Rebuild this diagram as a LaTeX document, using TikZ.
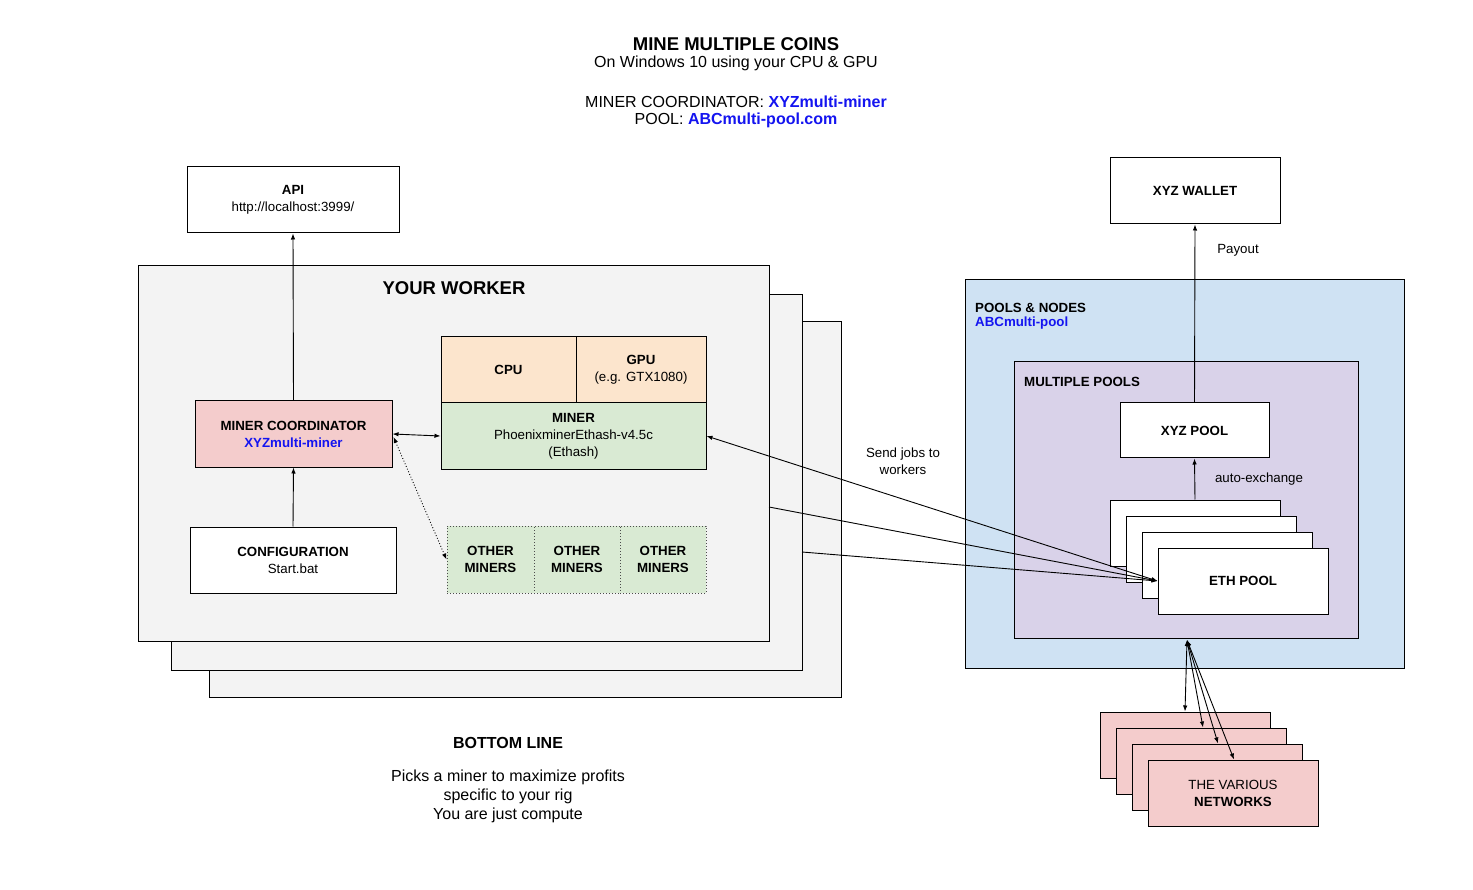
\documentclass[tikz,border=0pt]{standalone}
\usepackage{fontspec}
\setmainfont{Liberation Sans}
\usetikzlibrary{arrows.meta,calc}
\newcommand\fsm{\fontsize{13.3}{17}\selectfont}
\newcommand\fmd{\fontsize{16}{19}\selectfont}
\newcommand\fbig{\fontsize{18.5}{21}\selectfont\bfseries}
\definecolor{wgray}{HTML}{F3F3F3}
\definecolor{peach}{HTML}{FCE5CD}
\definecolor{mgreen}{HTML}{D9EAD3}
\definecolor{mpink}{HTML}{F4CCCC}
\definecolor{mblue}{HTML}{CFE2F3}
\definecolor{mpurple}{HTML}{D9D2E9}
\definecolor{tblue}{HTML}{1414F0}
\tikzset{
  box/.style={draw=black, line width=1pt, inner sep=0pt, align=center, font=\fsm},
  conn/.style={line width=0.9pt, -{Latex[length=6pt,width=4.5pt]}},
  bconn/.style={line width=0.9pt, {Latex[length=6pt,width=4.5pt]}-{Latex[length=6pt,width=4.5pt]}},
  dconn/.style={line width=0.9pt, dotted, {Latex[length=6pt,width=4.5pt]}-{Latex[length=6pt,width=4.5pt]}},
  lbl/.style={font=\fsm, align=center, inner sep=0pt, yshift=-1.5pt},
}
\begin{document}
\begin{tikzpicture}[x=1pt,y=-1pt]
\useasboundingbox[fill=white] (0,0) rectangle (1473,890);

% titles
\node[lbl, font=\fbig] (title) at (736,43) {MINE MULTIPLE COINS};
\node[lbl, font=\fmd] (sub) at (736,62) {On Windows 10 using your CPU \& GPU};
\node[lbl, font=\fmd] (mc) at (736,100) {MINER COORDINATOR: \textcolor{tblue}{\bfseries XYZmulti-miner}};
\node[lbl, font=\fmd] (pool) at (736,119) {POOL: \textcolor{tblue}{\bfseries ABCmulti-pool.com}};

% API
\node[box, minimum width=212, minimum height=66] (api) at (293,200) {\textbf{API}\\http://localhost:3999/};

% workers
\node[box, fill=wgray, minimum width=632, minimum height=375] (worker3) at (525,509.5) {};
\node[box, fill=wgray, minimum width=631, minimum height=375] (worker2) at (486.5,482.5) {};
\node[box, fill=wgray, minimum width=631, minimum height=375] (worker1) at (453.5,453.5) {};
\node[lbl, font=\fbig] (wtitle) at (454,287) {YOUR WORKER};

\node[box, fill=peach, minimum width=135, minimum height=66] (cpu) at (508.5,370) {\textbf{CPU}};
\node[box, fill=peach, minimum width=130, minimum height=66] (gpu) at (641,370) {\textbf{GPU}\\(e.g. GTX1080)};
\node[box, fill=mgreen, minimum width=265, minimum height=66] (miner) at (573.5,436) {\textbf{MINER}\\PhoenixminerEthash-v4.5c\\(Ethash)};
\node[box, fill=mpink, minimum width=197, minimum height=66] (coord) at (293.5,434) {\textbf{MINER COORDINATOR}\\\textcolor{tblue}{\bfseries XYZmulti-miner}};
\node[box, fill=white, minimum width=206, minimum height=66] (config) at (293,560) {\textbf{CONFIGURATION}\\Start.bat};

\node[box, draw=black!70, dotted, fill=mgreen, minimum width=87, minimum height=67] (om1) at (490.5,559.5) {\textbf{OTHER}\\\textbf{MINERS}};
\node[box, draw=black!70, dotted, fill=mgreen, minimum width=86, minimum height=67] (om2) at (577,559.5) {\textbf{OTHER}\\\textbf{MINERS}};
\node[box, draw=black!70, dotted, fill=mgreen, minimum width=86, minimum height=67] (om3) at (663,559.5) {\textbf{OTHER}\\\textbf{MINERS}};

% right side
\node[box, fill=white, minimum width=170, minimum height=66] (wallet) at (1195,191) {\textbf{XYZ WALLET}};
\node[box, fill=mblue, minimum width=439, minimum height=388] (pn) at (1184.5,474) {};
\node[lbl, anchor=west, font=\fsm\bfseries] (pnl) at (975,306) {POOLS \& NODES};
\node[lbl, anchor=west, font=\fsm\bfseries, text=tblue] (pnl2) at (975,322) {ABCmulti-pool};
\node[box, fill=mpurple, minimum width=344, minimum height=276] (mp) at (1186,500) {};
\node[lbl, anchor=west, font=\fsm\bfseries] (mpl) at (1024,380) {MULTIPLE POOLS};
\node[box, fill=white, minimum width=149, minimum height=55] (xyzpool) at (1194.5,430.5) {\textbf{XYZ POOL}};

\node[box, fill=white, minimum width=170, minimum height=66] (eth1) at (1195,533) {};
\node[box, fill=white, minimum width=170, minimum height=66] (eth2) at (1211,549) {};
\node[box, fill=white, minimum width=170, minimum height=66] (eth3) at (1227,565) {};
\node[box, fill=white, minimum width=170, minimum height=66] (eth4) at (1243,581) {\textbf{ETH POOL}};

\node[box, fill=mpink, minimum width=170, minimum height=66] (net1) at (1185,745) {};
\node[box, fill=mpink, minimum width=170, minimum height=66] (net2) at (1201,761) {};
\node[box, fill=mpink, minimum width=170, minimum height=66] (net3) at (1217,777) {};
\node[box, fill=mpink, minimum width=170, minimum height=66] (net4) at (1233,793) {THE VARIOUS\\\textbf{NETWORKS}};

% labels
\node[lbl] (payout) at (1238,249) {Payout};
\node[lbl] (autoex) at (1259,478) {auto-exchange};
\node[lbl] (sendjobs) at (903,460) {Send jobs to\\workers};

\node[lbl, font=\fmd\bfseries] (bl) at (508,741) {BOTTOM LINE};
\node[lbl, font=\fmd] (blt) at (508,795) {Picks a miner to maximize profits\\specific to your rig\\You are just compute};

% connectors
\draw[conn] (coord.north) -- (api.south);
\draw[conn] (config.north) -- (coord.south);
\draw[bconn] (coord.east) -- (miner.west);
\draw[dconn] ($(coord.east)+(1,3)$) -- (om1.west);

\coordinate (w1p) at (769,507);
\coordinate (w2p) at (802,552);
\draw[bconn] (miner.east) -- (eth4.west);
\draw[conn] (w1p) -- (eth4.west);
\draw[conn] (w2p) -- (eth4.west);

\draw[conn] (xyzpool.north) -- (wallet.south);
\draw[conn] (eth1.north) -- (xyzpool.south);

\coordinate (mpb) at (1187,640);
\draw[bconn] (mpb) -- (net1.north);
\draw[bconn] (mpb) -- ($(net2.north)+(2,0)$);
\draw[bconn] (mpb) -- ($(net3.north)+(1,0)$);
\draw[bconn] (mpb) -- ($(net4.north)+(1,0)$);
\end{tikzpicture}
\end{document}
